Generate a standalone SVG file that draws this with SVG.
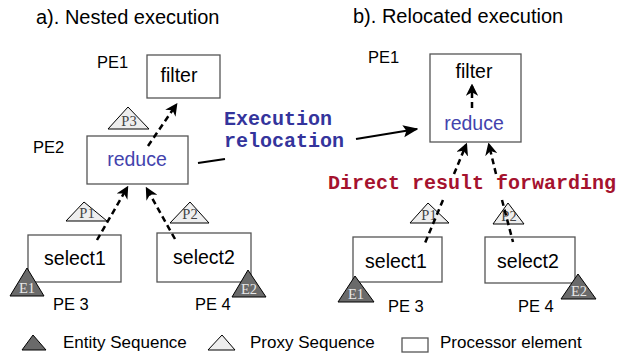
<svg xmlns="http://www.w3.org/2000/svg" width="618" height="355" viewBox="0 0 618 355">
<defs>
<marker id="ah" viewBox="0 0 10 10" refX="8" refY="5" markerWidth="5" markerHeight="5" orient="auto" markerUnits="strokeWidth">
<path d="M0,0 L10,5 L0,10 L3,5 z" fill="#000"/>
</marker>
<marker id="ah2" viewBox="0 0 10 10" refX="9" refY="5" markerWidth="7" markerHeight="7" orient="auto" markerUnits="strokeWidth">
<path d="M0,1 L10,5 L0,9 L2,5 z" fill="#000"/>
</marker>
</defs>
<style>
.t{font-family:"Liberation Sans",Arial,sans-serif;fill:#000}
.title{font-size:20px}
.pe{font-size:16.5px}
.lbl{font-size:19.5px;text-anchor:middle}
.blue{fill:#4343ad}
.leg{font-size:17px}
.box{fill:#fff;stroke:#555;stroke-width:1.3}
.prox{fill:#eeeeee;stroke:#000;stroke-width:1}
.ent{fill:#6a6a6a;stroke:#000;stroke-width:1}
.pt{font-family:"Liberation Serif","Times New Roman",serif;font-size:14.5px;text-anchor:middle;fill:#444}
.et{font-family:"Liberation Serif","Times New Roman",serif;font-size:14.5px;text-anchor:middle;fill:#e8e8e8}
.mono{font-family:"Liberation Mono","Courier New",monospace;font-size:20px;font-weight:bold}
.dash{stroke:#000;stroke-width:2.5;stroke-dasharray:6,4;fill:none}
</style>

<text class="t title" x="36" y="24">a). Nested execution</text>
<text class="t title" x="353" y="23">b). Relocated execution</text>

<!-- Left panel nodes -->
<g id="a-filter">
<text class="t pe" x="97" y="68">PE1</text>
<rect class="box" x="147" y="55" width="73" height="43"/>
<text class="t lbl" x="179" y="82">filter</text>
</g>
<g id="a-reduce">
<text class="t pe" x="33" y="153">PE2</text>
<rect class="box" x="87" y="136" width="101" height="48"/>
<text class="t lbl blue" x="137" y="166">reduce</text>
<polygon class="prox" points="128,107 108,129 149,129"/>
<text class="pt" x="129" y="126">P3</text>
</g>
<g id="a-select1">
<rect class="box" x="28" y="235" width="93" height="47"/>
<text class="t lbl" x="75" y="265">select1</text>
<polygon class="ent" points="27,268 10,296 44,296"/>
<text class="et" x="27" y="293">E1</text>
<text class="t pe" x="53" y="310">PE 3</text>
<polygon class="prox" points="84,202 66,221 107,221"/>
<text class="pt" x="87" y="218">P1</text>
</g>
<g id="a-select2">
<rect class="box" x="157" y="233" width="94" height="49"/>
<text class="t lbl" x="204" y="264">select2</text>
<polygon class="ent" points="248,270 232,297 266,297"/>
<text class="et" x="249" y="294">E2</text>
<text class="t pe" x="195" y="310">PE 4</text>
<polygon class="prox" points="190,202 170,223 209,223"/>
<text class="pt" x="190" y="219">P2</text>
</g>

<!-- Right panel nodes -->
<g id="b-filter-reduce">
<text class="t pe" x="368" y="63">PE1</text>
<rect class="box" x="430" y="54" width="91" height="88"/>
<text class="t lbl" x="474" y="78">filter</text>
<text class="t lbl blue" x="474" y="130">reduce</text>
</g>
<g id="b-select1">
<rect class="box" x="353" y="237" width="89" height="45"/>
<text class="t lbl" x="396" y="268">select1</text>
<polygon class="ent" points="355,276 338,302 374,302"/>
<text class="et" x="356" y="299">E1</text>
<text class="t pe" x="388" y="312">PE 3</text>
<polygon class="prox" points="428,203 410,223 449,223"/>
<text class="pt" x="429" y="220">P1</text>
</g>
<g id="b-select2">
<rect class="box" x="485" y="237" width="90" height="46"/>
<text class="t lbl" x="528" y="268">select2</text>
<polygon class="ent" points="578,274 561,299 596,299"/>
<text class="et" x="579" y="296">E2</text>
<text class="t pe" x="518" y="312">PE 4</text>
<polygon class="prox" points="508,203 493,224 524,224"/>
<text class="pt" x="509" y="221">P2</text>
</g>

<!-- Connectors -->
<g id="connectors">
<line class="dash" x1="148" y1="146" x2="176" y2="105" marker-end="url(#ah)"/>
<line class="dash" x1="97" y1="240" x2="127" y2="188" marker-end="url(#ah)"/>
<line class="dash" x1="175" y1="239" x2="147" y2="189" marker-end="url(#ah)"/>
<line class="dash" x1="472" y1="108" x2="472" y2="86" stroke-dasharray="5,4" marker-end="url(#ah)"/>
<line class="dash" x1="443" y1="200" x2="425" y2="243"/>
<line class="dash" x1="454" y1="174" x2="466" y2="145" marker-end="url(#ah)"/>
<line class="dash" x1="502" y1="200" x2="513" y2="242"/>
<line class="dash" x1="496" y1="174" x2="489" y2="145" marker-end="url(#ah)"/>
<line x1="198" y1="163" x2="225" y2="159" stroke="#000" stroke-width="2.2"/>
<line x1="356" y1="139" x2="417" y2="129" stroke="#000" stroke-width="2.2" marker-end="url(#ah2)"/>
</g>

<text class="mono" x="224" y="125" fill="#34349c">Execution</text>
<text class="mono" x="224" y="147" fill="#34349c">relocation</text>
<text class="mono" x="328" y="189" fill="#a5122e">Direct result forwarding</text>

<!-- Legend -->
<g id="legend">
<polygon class="ent" points="33,335 22,350 46,350"/>
<text class="t leg" x="63" y="348">Entity Sequence</text>
<polygon class="prox" points="222,335 208,350 235,350"/>
<text class="t leg" x="250" y="348">Proxy Sequence</text>
<rect class="box" x="402" y="338" width="26" height="14"/>
<text class="t leg" x="440" y="348">Processor element</text>
</g>
</svg>
